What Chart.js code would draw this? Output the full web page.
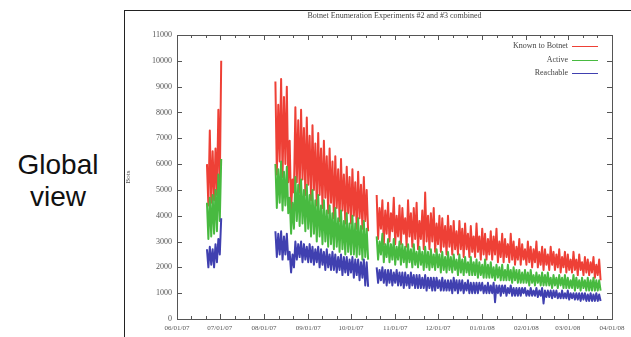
<!DOCTYPE html>
<html>
<head>
<meta charset="utf-8">
<script src="https://cdn.jsdelivr.net/npm/chart.js@4.4.0/dist/chart.umd.min.js"></script>
<style>
  html, body { margin: 0; padding: 0; background: #fff; overflow: hidden; }
  body { width: 631px; height: 337px; position: relative; }
  #side { position: absolute; left: 0; top: 149px; width: 116px; text-align: center;
          font: 28px/32px "Liberation Sans", Arial, sans-serif; color: #111; }
  #frame { position: absolute; left: 124px; top: 10px; width: 600px; height: 400px;
           border-left: 1px solid #222; border-top: 1px solid #222; }
  #wrap { position: absolute; left: 124px; top: 10px; width: 507px; height: 327px; }
</style>
</head>
<body>
<div id="side">Global<br>view</div>
<div id="frame"></div>
<div id="wrap"><canvas id="chart"></canvas></div>
<script>
// axe x : jours depuis le 06/01/07
const monthDays = [0, 30, 61, 92, 122, 153, 183, 214, 245, 274, 305];
const monthLabels = ['06/01/07', '07/01/07', '08/01/07', '09/01/07', '10/01/07', '11/01/07',
                     '12/01/07', '01/01/08', '02/01/08', '03/01/08', '04/01/08'];
// premier jour de chaque segment de mesures (une valeur par jour)
const segStarts = [21, 69, 140];

const knownToBotnet = [
  [6000, 4400, 7300, 4500, 6500, 4600, 6600, 4800, 8100, 5200, 10000],
  [9200, 5600, 8300, 6100, 9300, 5500, 8600, 6000, 9000, 5300,
   6900, 4200, 5400, 4900,
   8200, 5300, 7700, 4900, 8100, 5400,
   7400, 4800, 7800, 5200, 7100, 4600,
   7500, 5000, 6800, 4400, 7200, 4800,
   6600, 4300, 6900, 4700, 6300, 4100,
   6600, 4500, 6100, 3900, 6300, 4300,
   5800, 3800, 6200, 4200, 5600, 3700,
   5900, 4100, 5500, 3700, 5800, 4000,
   5300, 3500, 5700, 3900, 5200, 3500,
   5500, 3800, 5000, 3400],
  [4800, 3100, 4300, 3500, 4600, 2900, 4200, 3300, 4500, 3000,
   4100, 3400, 4700, 2900, 4000, 3200, 4400, 2900, 4300, 3300,
   3900, 2800, 4600, 3200, 4100, 2800, 4300, 3100, 4500, 2700,
   3800, 3100, 4200, 2700, 4900, 3000, 4000, 2700, 4100, 3000,
   4300, 2600, 3700, 2900, 4000, 2600, 3900, 2800, 3600, 2500,
   4000, 2800, 3600, 2500, 3800, 2700, 3400, 2500, 3800, 2700,
   3500, 2400, 3700, 2700, 3300, 2400, 3600, 2600, 3200, 2400,
   3700, 2600, 3200, 2300, 3500, 2500, 3300, 2300, 3100, 2500,
   3400, 2300, 3200, 2500, 3500, 2200, 3000, 2400, 3300, 2200,
   3100, 2400, 2900, 2200, 3300, 2300, 3000, 2100, 2800, 2300,
   3100, 2100, 2900, 2300, 2700, 2100, 3000, 2200, 2800, 2000,
   2700, 2200, 3000, 2000, 2600, 2100, 2800, 1900, 2700, 2100,
   2500, 1900, 2800, 2100, 2600, 1900, 2500, 2000, 2700, 1800,
   2400, 2000, 2600, 1800, 2500, 1900, 2300, 1800, 2600, 1900,
   2300, 1700, 2500, 1900, 2200, 1700, 2400, 1800, 2300, 1700,
   2200, 1800, 2400, 1600, 2100, 1700, 2300, 1500]
];

const active = [
  [4500, 3100, 4700, 3200, 4800, 3300, 5000, 3400, 5600, 3800, 6200],
  [6000, 4300, 5800, 4500, 6100, 4200, 5700, 4400, 5900, 4100,
   4700, 3300, 4500, 3500,
   5500, 3800, 5200, 3600, 5400, 3700,
   5000, 3400, 5200, 3500, 4800, 3200,
   5000, 3300, 4600, 3000, 4800, 3200,
   4400, 2900, 4600, 3000, 4200, 2800,
   4400, 2900, 4100, 2700, 4300, 2800,
   3900, 2600, 4200, 2700, 3800, 2500,
   4100, 2600, 3700, 2500, 4000, 2500,
   3700, 2400, 3900, 2500, 3600, 2300,
   3800, 2400, 3500, 2300],
  [3200, 2300, 3000, 2500, 3300, 2200, 2900, 2400, 3100, 2200,
   2900, 2300, 3100, 2100, 2800, 2300, 3000, 2100, 2900, 2200,
   2800, 2000, 2900, 2200, 2700, 2000, 2900, 2100, 2600, 2000,
   2800, 2100, 2600, 1900, 2800, 2000, 2600, 1900, 2700, 2000,
   2500, 1900, 2700, 2000, 2500, 1800, 2600, 1900, 2400, 1800,
   2600, 1900, 2400, 1800, 2500, 1900, 2300, 1700, 2500, 1800,
   2300, 1700, 2400, 1800, 2200, 1700, 2400, 1700, 2200, 1700,
   2300, 1600, 2200, 1700, 2100, 1600, 2300, 1600, 2100, 1600,
   2200, 1600, 2000, 1500, 2100, 1600, 2000, 1500, 2100, 1500,
   1900, 1500, 2100, 1500, 1900, 1400, 2000, 1500, 1900, 1400,
   1900, 1400, 1800, 1400, 1900, 1400, 1800, 1300, 1900, 1400,
   1700, 1300, 1800, 1400, 1700, 1300, 1800, 1300, 1700, 1300,
   1800, 1300, 1600, 1200, 1700, 1300, 1600, 1200, 1700, 1300,
   1600, 1200, 1700, 1200, 1600, 1200, 1500, 1200, 1700, 1100,
   1600, 1200, 1500, 1100, 1600, 1200, 1500, 1100, 1600, 1100,
   1500, 1100, 1600, 1100, 1500, 1100, 1500, 1100]
];

const reachable = [
  [2700, 2000, 2800, 2100, 2700, 2000, 2900, 2200, 3100, 2500, 3900],
  [3400, 2400, 3300, 2500, 3400, 2300, 3200, 2500, 3300, 2300,
   2600, 1800, 2500, 2000,
   3000, 2300, 2900, 2400, 3000, 2200,
   2900, 2300, 2800, 2200, 2900, 2200,
   2800, 2100, 2700, 2200, 2800, 2000,
   2700, 2100, 2600, 1900, 2700, 2000,
   2500, 1900, 2600, 1900, 2500, 1800,
   2400, 1900, 2500, 1700, 2400, 1800,
   2400, 1700, 2300, 1800, 2400, 1600,
   2300, 1700, 2300, 1500, 2200, 1600,
   2300, 1300, 2200, 1250],
  [2000, 1400, 1900, 1500, 2000, 1400, 1900, 1300, 1900, 1400,
   1900, 1300, 1800, 1400, 1900, 1300, 1800, 1300, 1800, 1200,
   1800, 1300, 1700, 1200, 1800, 1300, 1700, 1200, 1700, 1200,
   1700, 1200, 1600, 1200, 1700, 1100, 1600, 1200, 1600, 1100,
   1600, 1100, 1600, 1200, 1500, 1100, 1600, 1100, 1500, 1100,
   1500, 1100, 1500, 1000, 1600, 1100, 1500, 1000, 1500, 1100,
   1500, 1000, 1400, 1100, 1500, 1000, 1400, 1000, 1400, 1000,
   1400, 1000, 1400, 1100, 1400, 1000, 1300, 1000, 1400, 1000,
   1300, 1000, 1400, 650, 1300, 1000, 1300, 900, 1300, 1000,
   1300, 900, 1200, 1000, 1300, 900, 1200, 900, 1200, 900,
   1200, 900, 1200, 1000, 1200, 900, 1100, 900, 1200, 900,
   1100, 900, 1200, 850, 1100, 900, 1200, 600, 1100, 850,
   1100, 850, 1100, 800, 1100, 850, 1100, 800, 1000, 800,
   1100, 800, 1000, 800, 1100, 750, 1000, 800, 1000, 750,
   1000, 750, 1000, 700, 1000, 750, 1000, 700, 950, 700,
   1000, 700, 950, 700, 1000, 700, 950, 700]
];

const titleText = 'Botnet Enumeration Experiments #2 and #3 combined';
const serif = '"Liberation Serif", "DejaVu Serif", serif';

// segments -> points {x,y}, avec un null entre deux segments pour couper la ligne
function toPoints(segs) {
  const pts = [];
  segs.forEach((vals, k) => {
    vals.forEach((v, i) => pts.push({x: segStarts[k] + i, y: v}));
    if (k < segs.length - 1) pts.push({x: segStarts[k] + vals.length, y: null});
  });
  return pts;
}

// cadre façon gnuplot : bordure, graduations internes, titre, légende
const gnuFrame = {
  id: 'gnuFrame',
  afterDatasetsDraw(chart) {
    const {ctx, chartArea: a, scales: {x, y}} = chart;
    ctx.save();
    ctx.strokeStyle = '#555';
    ctx.lineWidth = 1;
    ctx.strokeRect(Math.round(a.left) + 0.5, Math.round(a.top) + 0.5, Math.round(a.width), Math.round(a.height));

    ctx.beginPath();
    y.ticks.forEach(t => {
      const py = Math.round(y.getPixelForValue(t.value)) + 0.5;
      ctx.moveTo(a.left, py); ctx.lineTo(a.left + 5, py);
      ctx.moveTo(a.right, py); ctx.lineTo(a.right - 5, py);
    });
    for (let m = 0; m < monthDays.length; m++) {
      const steps = m < monthDays.length - 1 ? 3 : 1;
      for (let k = 0; k < steps; k++) {
        const d = m < monthDays.length - 1 ? monthDays[m] + (monthDays[m + 1] - monthDays[m]) * k / 3 : monthDays[m];
        const len = k === 0 ? 5 : 3;
        const px = Math.round(x.getPixelForValue(d)) + 0.5;
        ctx.moveTo(px, a.bottom); ctx.lineTo(px, a.bottom - len);
        ctx.moveTo(px, a.top); ctx.lineTo(px, a.top + len);
      }
    }
    ctx.stroke();

    ctx.fillStyle = '#444';
    ctx.font = '8px ' + serif;
    ctx.textAlign = 'center';
    ctx.textBaseline = 'middle';
    ctx.fillText(titleText, (a.left + a.right) / 2, 6);

    ctx.textAlign = 'right';
    chart.data.datasets.forEach((ds, i) => {
      const ly = a.top + 11 + i * 13.5;
      ctx.fillStyle = '#444';
      ctx.fillText(ds.label, a.right - 44, ly);
      ctx.strokeStyle = ds.borderColor;
      ctx.beginPath();
      ctx.moveTo(a.right - 40, Math.round(ly) + 0.5);
      ctx.lineTo(a.right - 14, Math.round(ly) + 0.5);
      ctx.stroke();
    });
    ctx.restore();
  }
};

new Chart(document.getElementById('chart'), {
  type: 'line',
  data: {
    datasets: [
      {label: 'Known to Botnet', data: toPoints(knownToBotnet), borderColor: 'rgb(238, 64, 54)', order: 3},
      {label: 'Active', data: toPoints(active), borderColor: 'rgb(72, 186, 64)', order: 2},
      {label: 'Reachable', data: toPoints(reachable), borderColor: 'rgb(64, 64, 176)', order: 1}
    ]
  },
  options: {
    responsive: true,
    maintainAspectRatio: false,
    animation: false,
    spanGaps: false,
    datasets: {line: {borderWidth: 2, pointRadius: 0, tension: 0, borderJoinStyle: 'round'}},
    layout: {padding: {left: 0, right: 19, top: 25, bottom: 0}},
    plugins: {legend: {display: false}, tooltip: {enabled: false}, title: {display: false}},
    scales: {
      x: {
        type: 'linear', min: 0, max: 305,
        afterBuildTicks: s => { s.ticks = monthDays.map(v => ({value: v})); },
        afterFit: s => { s.height = 18; },
        grid: {display: false, drawTicks: false},
        border: {display: false},
        ticks: {
          autoSkip: false, maxRotation: 0, padding: 5, color: '#555',
          font: {family: serif, size: 7},
          callback: (v, i) => monthLabels[i]
        }
      },
      y: {
        min: 0, max: 11000,
        afterFit: s => { s.width = 53; },
        grid: {display: false, drawTicks: false},
        border: {display: false},
        ticks: {stepSize: 1000, padding: 5, color: '#555', font: {family: serif, size: 8},
                callback: v => String(v)},
        title: {display: true, text: 'Bots', color: '#555', font: {family: serif, size: 7}, padding: {top: 0, bottom: 0}}
      }
    }
  },
  plugins: [gnuFrame]
});
</script>
</body>
</html>
